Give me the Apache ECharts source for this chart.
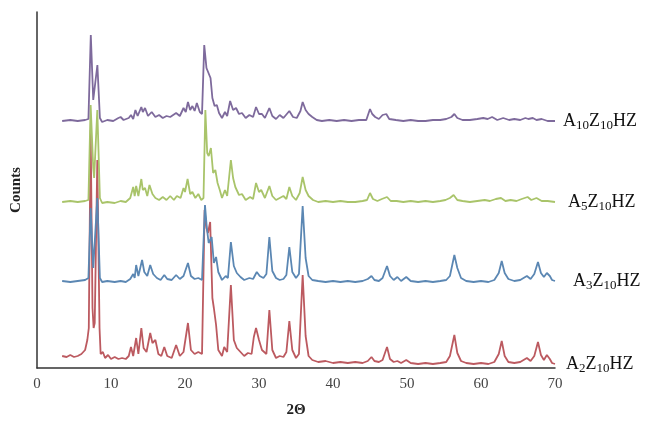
<!DOCTYPE html>
<html>
<head>
<meta charset="utf-8">
<script src="https://cdn.jsdelivr.net/npm/echarts@6/dist/echarts.min.js"></script>
<style>
  html, body { margin: 0; padding: 0; background: #fff; }
  #xrd { width: 645px; height: 423px; }
</style>
</head>
<body>
<div id="xrd"></div>
<script>
// sample names: [main, sub, main, sub, main]
const sampleParts = [
  ['A', '10', 'Z', '10', 'HZ'],
  ['A', '5', 'Z', '10', 'HZ'],
  ['A', '3', 'Z', '10', 'HZ'],
  ['A', '2', 'Z', '10', 'HZ']
];
const sampleColors = ['#7e6a9c', '#a9c46a', '#5b87b3', '#bc5a60'];
const labelGap = [8, 13, 18, 11];
const xTicks = [0, 10, 20, 30, 40, 50, 60, 70];

// [2theta, counts], traces already stacked
const a10 = [[3.4,247],[4.5,248],[5.5,247],[6.5,248],[6.95,249],[7.27,333],[7.6,268],[7.72,266],[8.16,303],[8.5,250],[8.8,246],[9.5,248],[10.3,247],[11.0,250],[11.3,251],[11.7,248],[12.4,250],[12.7,253],[13.0,249],[13.3,258],[13.6,252],[14.1,261],[14.3,256],[14.6,260],[15.0,252],[15.5,256],[16.0,251],[16.5,253],[17.0,250],[17.5,252],[18.0,251],[18.8,255],[19.3,252],[19.8,260],[20.1,256],[20.4,266],[20.7,258],[21.0,262],[21.3,257],[21.6,265],[22.0,256],[22.3,254],[22.6,323],[22.9,300],[23.1,302],[23.45,290],[23.7,270],[24.0,262],[24.3,263],[24.6,255],[25.0,250],[25.4,256],[25.7,252],[26.1,267],[26.5,258],[26.9,260],[27.3,254],[27.7,255],[28.2,250],[28.7,253],[29.2,251],[29.6,261],[30.0,254],[30.4,254],[30.8,250],[31.4,260],[31.8,252],[32.3,249],[32.8,253],[33.3,250],[34.1,257],[34.6,251],[35.1,250],[35.6,257],[35.9,266],[36.3,258],[36.7,254],[37.2,251],[37.8,248],[38.5,247],[39.5,248],[40.5,247],[41.5,248],[42.5,247],[43.5,248],[44.5,248],[45.0,259],[45.3,254],[45.7,251],[46.2,249],[46.7,253],[47.2,254],[47.6,249],[48.5,248],[49.5,247],[50.5,248],[51.5,247],[52.5,247],[53.5,248],[54.5,248],[55.3,249],[56.0,251],[56.4,254],[56.8,250],[57.5,248],[58.5,248],[59.5,249],[60.3,250],[60.9,249],[61.5,251],[62.2,248],[63.0,250],[63.8,248],[64.5,249],[65.3,248],[66.0,250],[66.4,249],[67.0,250],[67.5,248],[68.2,249],[69.0,247],[70.0,247]];

const a5 = [[3.4,166],[4.5,167],[5.5,166],[6.5,167],[6.95,168],[7.25,263],[7.6,200],[7.72,190],[8.15,258],[8.5,170],[8.8,165],[9.5,166],[10.5,165],[11.3,167],[12.0,166],[12.6,170],[13.0,181],[13.2,172],[13.4,182],[13.7,172],[14.1,189],[14.3,178],[14.6,180],[14.9,172],[15.2,183],[15.6,174],[16.0,170],[16.5,168],[17.0,171],[17.5,168],[18.0,172],[18.5,168],[18.9,172],[19.4,170],[19.8,180],[20.0,176],[20.35,189],[20.7,174],[21.0,176],[21.4,170],[21.8,174],[22.2,168],[22.5,170],[22.75,258],[23.0,215],[23.2,212],[23.5,220],[23.8,195],[24.1,198],[24.4,185],[24.7,178],[25.0,170],[25.4,178],[25.7,172],[26.2,208],[26.5,190],[26.8,181],[27.3,173],[27.7,174],[28.2,168],[28.8,171],[29.2,169],[29.6,185],[30.0,176],[30.3,178],[30.8,170],[31.4,182],[31.8,172],[32.3,168],[32.8,170],[33.3,172],[33.7,169],[34.1,181],[34.5,172],[35.0,168],[35.5,175],[35.9,191],[36.3,178],[36.7,172],[37.3,168],[38.0,166],[39.0,167],[40.0,166],[41.0,167],[42.0,166],[43.0,166],[44.0,167],[44.6,168],[45.0,175],[45.4,169],[46.0,167],[46.6,169],[47.3,171],[47.8,167],[48.6,167],[49.5,166],[50.5,167],[51.5,166],[52.5,167],[53.5,166],[54.5,167],[55.2,168],[55.8,170],[56.3,173],[56.8,168],[57.5,167],[58.5,166],[59.5,167],[60.5,168],[61.2,167],[62.0,169],[62.7,170],[63.3,167],[64.0,168],[64.8,167],[65.5,169],[66.3,171],[66.8,168],[67.5,170],[68.2,167],[69.0,167],[70.0,166]];

const a3 = [[3.4,87],[4.5,86],[5.5,87],[6.5,88],[6.95,90],[7.25,160],[7.6,100],[7.72,98],[8.15,170],[8.5,90],[8.8,86],[9.5,87],[10.5,86],[11.3,87],[12.0,86],[12.6,89],[13.0,94],[13.2,90],[13.4,103],[13.7,92],[14.2,108],[14.5,96],[14.9,92],[15.3,103],[15.7,94],[16.2,90],[16.7,88],[17.2,93],[17.6,89],[18.2,88],[18.8,93],[19.3,89],[19.8,92],[20.4,105],[20.8,92],[21.3,89],[21.8,90],[22.3,88],[22.7,163],[22.95,140],[23.2,125],[23.6,131],[23.9,105],[24.2,111],[24.5,96],[25.0,88],[25.5,92],[25.8,90],[26.2,126],[26.6,102],[27.0,95],[27.5,91],[28.0,88],[28.7,90],[29.2,89],[29.7,96],[30.1,92],[30.6,90],[31.0,94],[31.4,131],[31.8,97],[32.3,90],[32.8,88],[33.3,89],[33.7,93],[34.1,121],[34.5,96],[35.0,90],[35.4,94],[35.9,162],[36.3,110],[36.7,92],[37.2,88],[38.0,87],[39.0,86],[40.0,87],[41.0,86],[42.0,87],[43.0,86],[44.0,87],[44.7,89],[45.2,92],[45.6,88],[46.2,87],[46.7,90],[47.3,102],[47.7,92],[48.2,88],[48.7,91],[49.2,87],[49.9,91],[50.5,87],[51.5,86],[52.5,87],[53.5,86],[54.5,87],[55.3,88],[55.8,92],[56.4,113],[56.8,100],[57.3,90],[58.0,87],[59.0,86],[60.0,87],[61.0,86],[61.8,88],[62.4,95],[62.8,107],[63.2,95],[63.7,89],[64.5,87],[65.3,88],[66.2,92],[66.7,89],[67.2,94],[67.7,106],[68.1,95],[68.5,91],[68.9,95],[69.3,92],[69.6,88],[70.0,87]];

const a2 = [[3.4,12],[4.0,11],[4.5,13],[5.0,11],[5.5,12],[6.0,14],[6.5,18],[6.8,28],[7.0,40],[7.25,238],[7.5,60],[7.65,40],[7.8,45],[8.15,208],[8.45,40],[8.6,14],[8.9,16],[9.2,10],[9.6,13],[10.0,9],[10.5,11],[11.0,9],[11.5,10],[12.0,9],[12.4,12],[12.7,21],[13.0,12],[13.4,30],[13.7,14],[14.1,40],[14.4,20],[14.8,16],[15.3,35],[15.6,25],[16.0,28],[16.4,14],[16.8,12],[17.2,21],[17.6,12],[18.2,10],[18.8,23],[19.3,12],[19.8,16],[20.4,45],[20.8,18],[21.3,14],[21.8,16],[22.3,14],[22.65,158],[22.9,140],[23.1,135],[23.4,146],[23.7,70],[23.9,60],[24.2,43],[24.5,18],[25.0,12],[25.3,21],[25.7,16],[26.2,83],[26.6,28],[27.0,20],[27.5,16],[28.0,12],[28.5,15],[29.0,14],[29.3,31],[29.6,40],[30.0,28],[30.4,18],[31.0,14],[31.4,58],[31.8,18],[32.3,10],[32.8,12],[33.3,11],[33.7,16],[34.1,47],[34.5,18],[35.0,10],[35.4,14],[35.9,93],[36.3,32],[36.7,12],[37.2,8],[38.0,6],[39.0,7],[40.0,5],[41.0,6],[42.0,5],[43.0,6],[44.0,5],[44.7,7],[45.2,11],[45.6,7],[46.2,6],[46.7,8],[47.3,21],[47.7,9],[48.2,6],[48.7,7],[49.2,5],[49.9,8],[50.5,5],[51.5,4],[52.5,5],[53.5,4],[54.5,5],[55.3,6],[55.8,12],[56.4,33],[56.8,15],[57.3,7],[58.0,5],[59.0,4],[60.0,5],[61.0,4],[61.8,6],[62.4,14],[62.8,27],[63.2,12],[63.7,6],[64.5,5],[65.3,6],[66.2,10],[66.7,7],[67.2,12],[67.7,26],[68.1,13],[68.5,8],[68.9,13],[69.3,9],[69.6,5],[70.0,4]];

const traces = [a10, a5, a3, a2];

const serif = '"Liberation Serif", "DejaVu Serif", serif';

const myChart = echarts.init(document.getElementById('xrd'));
const option = {
  animation: false,
  grid: { left: 37, right: 90, top: 12, bottom: 55 },
  xAxis: {
    type: 'value',
    min: 0,
    max: 70,
    interval: 10,
    name: '2Θ',
    nameLocation: 'middle',
    nameGap: 35,
    nameTextStyle: { fontFamily: serif, fontWeight: 'bold', fontSize: 15, color: '#222' },
    axisLine: { lineStyle: { color: '#333', width: 1.5 } },
    axisTick: { show: false },
    splitLine: { show: false },
    axisLabel: {
      fontFamily: serif, fontSize: 15, color: '#444', margin: 9,
      formatter: v => xTicks.includes(v) ? String(v) : ''
    }
  },
  yAxis: {
    type: 'value',
    min: 0,
    max: 356,
    name: 'Counts',
    nameLocation: 'middle',
    nameGap: 13,
    nameRotate: 90,
    nameTextStyle: { fontFamily: serif, fontWeight: 'bold', fontSize: 15, color: '#222' },
    axisLine: { show: true, lineStyle: { color: '#333', width: 1.5 } },
    axisTick: { show: false },
    axisLabel: { show: false },
    splitLine: { show: false }
  },
  series: traces.map((d, i) => ({
    type: 'line',
    data: d,
    symbol: 'none',
    lineStyle: { color: sampleColors[i], width: 1.8 },
    z: 10 - i,
    endLabel: {
      show: true,
      distance: labelGap[i],
      formatter: () => {
        const p = sampleParts[i];
        return '{m|' + p[0] + '}{s|' + p[1] + '}{m|' + p[2] + '}{s|' + p[3] + '}{m|' + p[4] + '}';
      },
      rich: {
        m: { fontFamily: serif, fontSize: 18, color: '#111' },
        s: { fontFamily: serif, fontSize: 13, color: '#111', padding: [10, 0, 0, 0] }
      }
    }
  }))
};

myChart.setOption(option);
</script>
</body>
</html>
